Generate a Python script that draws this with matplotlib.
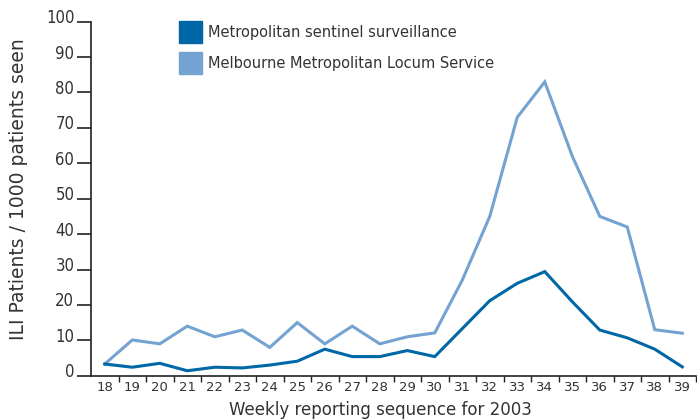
import matplotlib
matplotlib.use('Agg')
import matplotlib.pyplot as plt
import matplotlib.transforms as mtransforms
from matplotlib.patches import Rectangle
import numpy as np

plt.rcParams['font.family'] = ['DejaVu Sans']

# data
weeks = list(range(18, 40))
sentinel = [3.3, 2.4, 3.5, 1.4, 2.4, 2.2, 3.0, 4.1, 7.5, 5.4, 5.4,
            7.1, 5.4, 13.3, 21.2, 26.1, 29.4, 20.9, 12.9, 10.7, 7.5, 2.5]
locum = [3.3, 10.1, 9.0, 14.0, 11.0, 12.9, 8.0, 15.0, 9.0, 14.0, 9.0,
         11.0, 12.1, 27.0, 45.0, 73.0, 83.0, 62.0, 45.0, 42.0, 13.0, 12.0]
series_names = ['Metropolitan sentinel surveillance',
                'Melbourne Metropolitan Locum Service']
yticks = list(range(0, 101, 10))

dark = '#0067a6'
light = '#74a3d1'
text_col = '#333333'

fig = plt.figure(figsize=(6.97, 4.19), dpi=100)
ax = fig.add_axes([0.1306, 0.1033, 0.8680, 0.8450])

ax.plot(weeks, locum, color=light, lw=2.2, solid_joinstyle='miter')
ax.plot(weeks, sentinel, color=dark, lw=2.2, solid_joinstyle='miter')

ax.set_xlim(17.5, 39.5)
ax.set_ylim(0, 100)

for s in ['top', 'right']:
    ax.spines[s].set_visible(False)
for s in ['left', 'bottom']:
    ax.spines[s].set_color('#222222')
    ax.spines[s].set_linewidth(1.2)

# y axis: long ticks, labels sitting just above the tick
ax.set_yticks(yticks)
ax.tick_params(axis='y', length=10, width=1.2, color='#222222',
               labelsize=12, labelcolor=text_col, pad=2)
offset = mtransforms.ScaledTranslation(0, 4 / 72, fig.dpi_scale_trans)
for lab in ax.get_yticklabels():
    lab.set_transform(lab.get_transform() + offset)
    lab.set_fontstretch('condensed')

# x axis: labels at weeks, small separators between them
ax.set_xticks(weeks)
ax.set_xticklabels([str(w) for w in weeks])
ax.set_xticks(np.arange(18.5, 40, 1), minor=True)
ax.tick_params(axis='x', which='major', length=0, labelsize=9.5,
               labelcolor=text_col, pad=4)
ax.tick_params(axis='x', which='minor', length=4, width=1.0,
               color='#222222', direction='out')

ax.set_xlabel('Weekly reporting sequence for 2003', fontsize=12,
              color=text_col)
ax.xaxis.set_label_coords(0.479, -0.07)
ax.set_ylabel('ILI Patients / 1000 patients seen', fontsize=13.5,
              color=text_col)
ax.yaxis.set_label_coords(-0.104, 0.527)

# legend drawn as two squares with text
for i, (name, col) in enumerate(zip(series_names, [dark, light])):
    y0 = 0.94 - i * 0.088
    ax.add_patch(Rectangle((0.145, y0), 0.038, 0.061, transform=ax.transAxes,
                           color=col, clip_on=False))
    ax.text(0.193, y0 + 0.03, name, transform=ax.transAxes, fontsize=10.5,
            color=text_col, va='center', ha='left')

fig.savefig('out.png', dpi=100)
